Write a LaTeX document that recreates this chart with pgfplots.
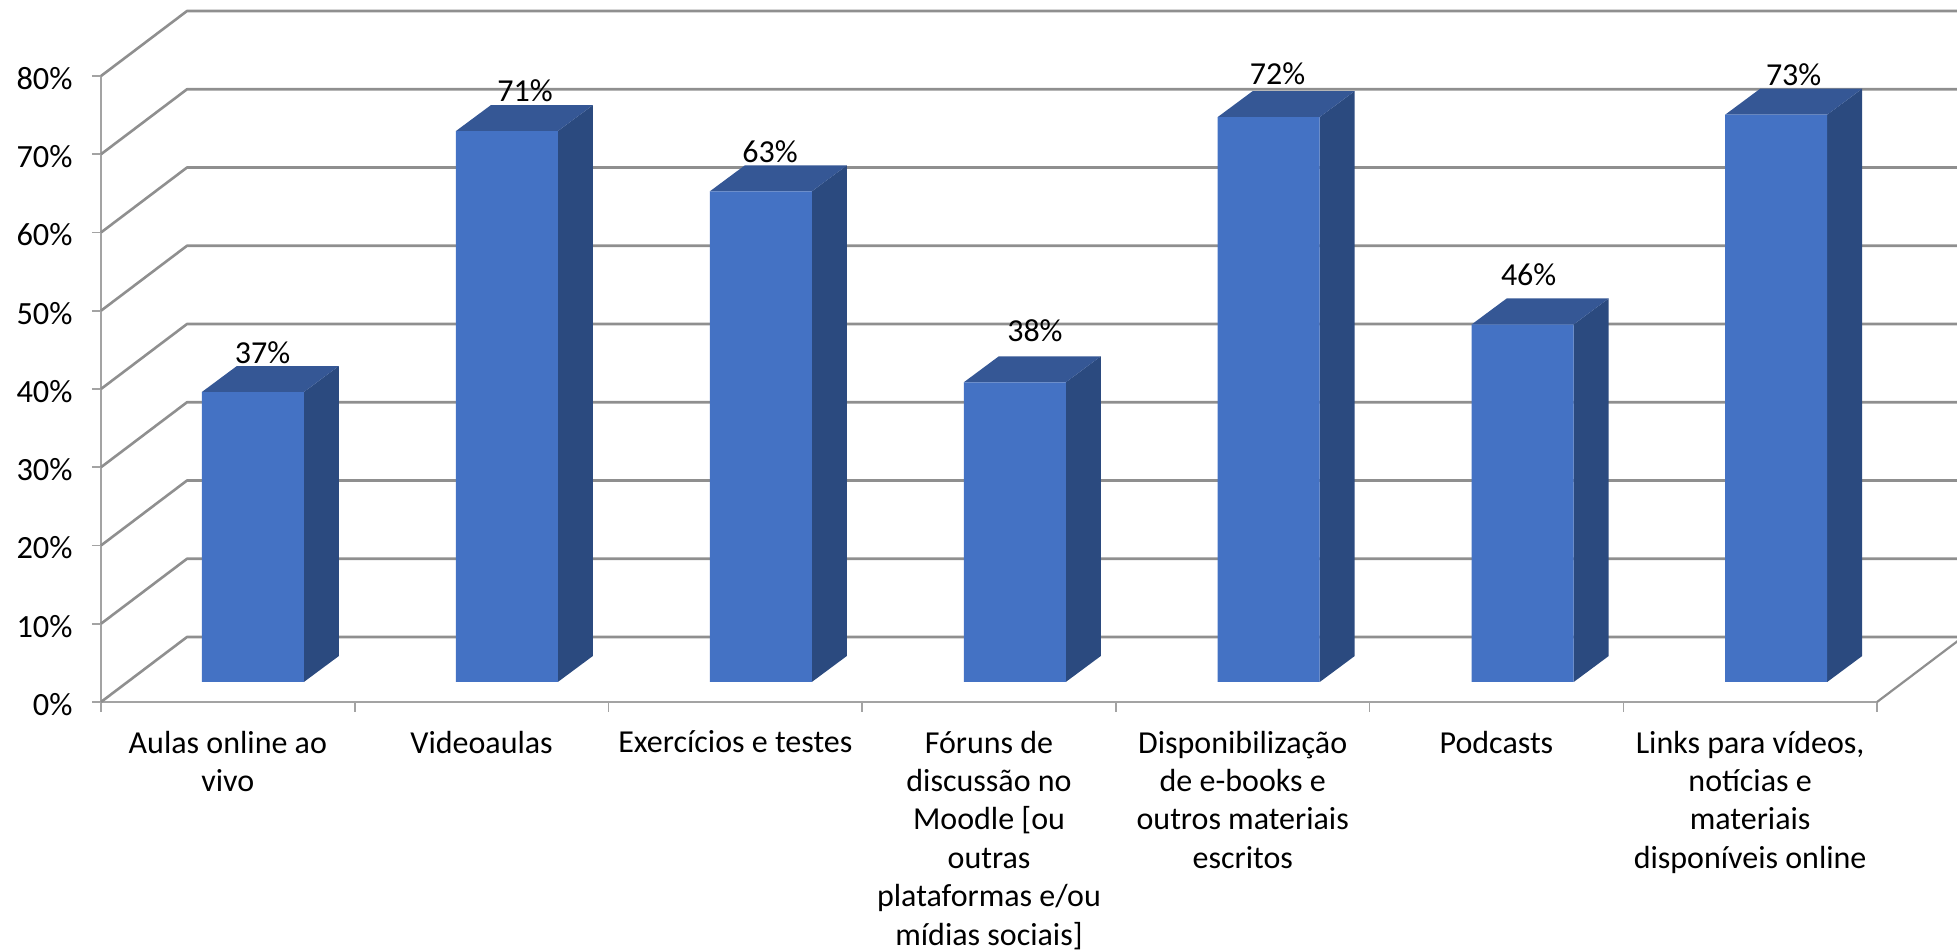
\documentclass[border=0pt]{standalone}
\usepackage{fontspec}
\setmainfont{Carlito}
\usepackage{pgfplots}
\pgfplotsset{compat=1.18}
\definecolor{frontc}{HTML}{4472C4}
\definecolor{sidec}{HTML}{2B4A7F}
\definecolor{topc}{HTML}{355795}
\definecolor{gridc}{HTML}{8F8F8F}
\definecolor{axisc}{HTML}{A3A3A3}
\newcommand\gridline[1]{%
  \pgfmathsetmacro\yb{#1+8.307}%
  \edef\tmp{\noexpand\addplot[gridc,line width=1.3pt,line join=bevel,forget plot] coordinates {(-0.5,#1) (-0.161,\yb) (6.839,\yb)};}\tmp}
\newcommand\barfaces[2]{%
  \pgfmathsetmacro\xa{#1-0.0985}\pgfmathsetmacro\xb{#1+0.3035}%
  \pgfmathsetmacro\xc{#1+0.0395}\pgfmathsetmacro\xd{#1+0.4415}%
  \pgfmathsetmacro\yf{#2+2.556}\pgfmathsetmacro\yg{#2+5.876}%
  \edef\tmp{\noexpand\addplot[fill=sidec,draw=none,forget plot] coordinates {(\xb,2.556) (\xb,\yf) (\xd,\yg) (\xd,5.876)} -- cycle;}\tmp
  \edef\tmp{\noexpand\addplot[fill=topc,draw=none,forget plot] coordinates {(\xa,\yf) (\xb,\yf) (\xd,\yg) (\xc,\yg)} -- cycle;}\tmp}
\begin{document}
\begin{tikzpicture}
\path[clip,use as bounding box] (0pt,0pt) rectangle (978.5pt,475.5pt);
\begin{axis}[
  at={(50.5pt,124.5pt)},anchor=south west,
  scale only axis,width=888pt,height=313pt,
  xmin=-0.5,xmax=6.5,ymin=0,ymax=80,
  clip=false,
  axis x line=bottom,axis y line=left,
  axis line style={axisc,line width=1.1pt,-},
  ytick={0,10,...,80},
  yticklabel={\pgfmathprintnumber[assume math mode=true]{\tick}\%},
  y tick label style={font=\fontsize{16.2}{19.6}\selectfont,xshift=-6.2pt,yshift=-1.2pt},
  ytick style={axisc,line width=0.8pt},
  xtick={0,1,2,3,4,5,6},
  minor xtick={-0.5,0.5,1.5,2.5,3.5,4.5,5.5,6.5},
  major x tick style={draw=none},
  minor x tick style={axisc,line width=0.8pt},
  major tick length=4.5pt,minor tick length=5pt,
  tick align=outside,
  xticklabels={{Aulas online ao\\vivo},{Videoaulas},{Exercícios e testes},{Fóruns de\\discussão no\\Moodle [ou\\outras\\plataformas e/ou\\mídias sociais]},{Disponibilização\\de e-books e\\outros materiais\\escritos},{Podcasts},{Links para vídeos,\\notícias e\\materiais\\disponíveis online}},
  x tick label style={font=\fontsize{16}{19.2}\selectfont,align=center,anchor=north,yshift=-6.4pt},
]
\gridline{0}\gridline{10}\gridline{20}\gridline{30}\gridline{40}\gridline{50}\gridline{60}\gridline{70}\gridline{80}
\addplot[gridc,line width=1.1pt,forget plot] coordinates {(6.5,0) (6.839,8.307)};
\barfaces{-0.004}{37.06}\barfaces{0.997}{70.4}\barfaces{1.998}{62.7}\barfaces{2.999}{38.3}\barfaces{4.0}{72.2}\barfaces{5.001}{45.7}\barfaces{6.0}{72.5}
\addplot[ybar,bar width=51pt,bar shift=13pt,yshift=10pt,fill=frontc,draw=none,forget plot] coordinates {(-0.004,37.06) (0.997,70.4) (1.998,62.7) (2.999,38.3) (4.0,72.2) (5.001,45.7) (6.0,72.5)};
\addplot[only marks,mark=none,forget plot,nodes near coords,point meta=explicit symbolic,
  nodes near coords style={anchor=center,font=\fontsize{16}{19.6}\selectfont,text=black}]
  table[meta=l] {
x y l
0.137 44.6 37\%
1.1715 78.08 71\%
2.137 70.29 63\%
3.181 47.41 38\%
4.137 80.26 72\%
5.127 54.57 46\%
6.1715 80.13 73\%
};
\end{axis}
\end{tikzpicture}
\end{document}
